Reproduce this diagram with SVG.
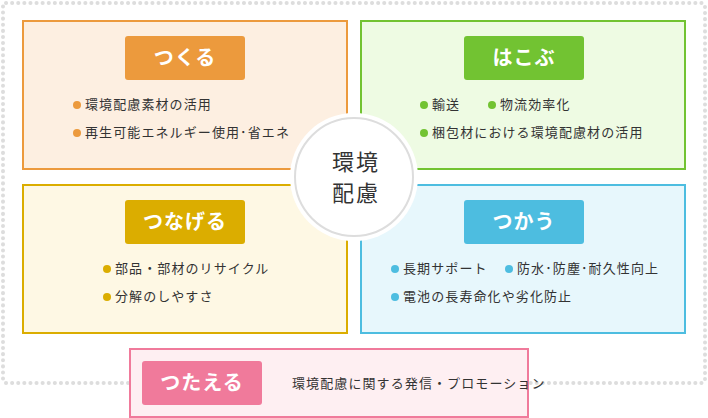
<svg xmlns="http://www.w3.org/2000/svg" width="708" height="418" viewBox="0 0 708 418">
<style>
text{font-family:"Noto Sans CJK JP","Noto Sans",sans-serif;}
.it{font-size:13px;fill:#333;letter-spacing:1.1px;}
.lb{font-size:20px;font-weight:bold;fill:#fff;text-anchor:middle;letter-spacing:1px;}
.box{stroke-width:2;}
</style>
<rect x="3" y="3" width="702" height="380" rx="3" fill="#fff" stroke="#ddd" stroke-width="4" stroke-dasharray="0.1 6" stroke-linecap="round"/>
<g id="tsukuru">
<rect class="box" x="23" y="21" width="324" height="148" fill="#FDEFE1" stroke="#EC9A3D"/>
<rect x="125" y="36" width="120" height="44" rx="3" fill="#EC9A3D"/>
<text class="lb" x="185" y="65">つくる</text>
<circle cx="77" cy="105" r="4" fill="#EC9A3D"/><text class="it" x="85" y="109">環境配慮素材の活用</text>
<circle cx="77" cy="133" r="4" fill="#EC9A3D"/><text class="it" x="85" y="137">再生可能エネルギー使用･省エネ</text>
</g>
<g id="hakobu">
<rect class="box" x="361" y="21" width="324" height="148" fill="#EEFBE3" stroke="#72C332"/>
<rect x="464" y="36" width="120" height="44" rx="3" fill="#72C332"/>
<text class="lb" x="524" y="65">はこぶ</text>
<circle cx="424" cy="105" r="4" fill="#72C332"/><text class="it" x="432" y="109">輸送</text>
<circle cx="492" cy="105" r="4" fill="#72C332"/><text class="it" x="500" y="109">物流効率化</text>
<circle cx="424" cy="133" r="4" fill="#72C332"/><text class="it" x="432" y="137">梱包材における環境配慮材の活用</text>
</g>
<g id="tsunageru">
<rect class="box" x="23" y="185" width="324" height="148" fill="#FEF8E4" stroke="#DBAD00"/>
<rect x="125" y="200" width="120" height="44" rx="3" fill="#DBAD00"/>
<text class="lb" x="185" y="229">つなげる</text>
<circle cx="107" cy="269" r="4" fill="#DBAD00"/><text class="it" x="115" y="273">部品・部材のリサイクル</text>
<circle cx="107" cy="297" r="4" fill="#DBAD00"/><text class="it" x="115" y="301">分解のしやすさ</text>
</g>
<g id="tsukau">
<rect class="box" x="361" y="185" width="324" height="148" fill="#E7F7FC" stroke="#4DBDE0"/>
<rect x="464" y="200" width="120" height="44" rx="3" fill="#4DBDE0"/>
<text class="lb" x="524" y="229">つかう</text>
<circle cx="395" cy="269" r="4" fill="#4DBDE0"/><text class="it" x="403" y="273">長期サポート</text>
<circle cx="509" cy="269" r="4" fill="#4DBDE0"/><text class="it" x="517" y="273">防水･防塵･耐久性向上</text>
<circle cx="395" cy="297" r="4" fill="#4DBDE0"/><text class="it" x="403" y="301">電池の長寿命化や劣化防止</text>
</g>
<g id="center">
<circle cx="354" cy="177" r="64" fill="#fff"/>
<circle cx="354" cy="177" r="59" fill="#fff" stroke="#ddd" stroke-width="2"/>
<text x="356" y="170" font-size="22" fill="#333" text-anchor="middle" letter-spacing="2">環境</text>
<text x="356" y="201" font-size="22" fill="#333" text-anchor="middle" letter-spacing="2">配慮</text>
</g>
<g id="tsutaeru">
<rect class="box" x="130" y="349" width="398" height="68" fill="#FEEFF2" stroke="#F07A9B"/>
<rect x="142" y="361" width="120" height="44" rx="3" fill="#F07A9B"/>
<text class="lb" x="202" y="390">つたえる</text>
<text class="it" x="292" y="388">環境配慮に関する発信・プロモーション</text>
</g>
<g id="connectors"/>
</svg>
